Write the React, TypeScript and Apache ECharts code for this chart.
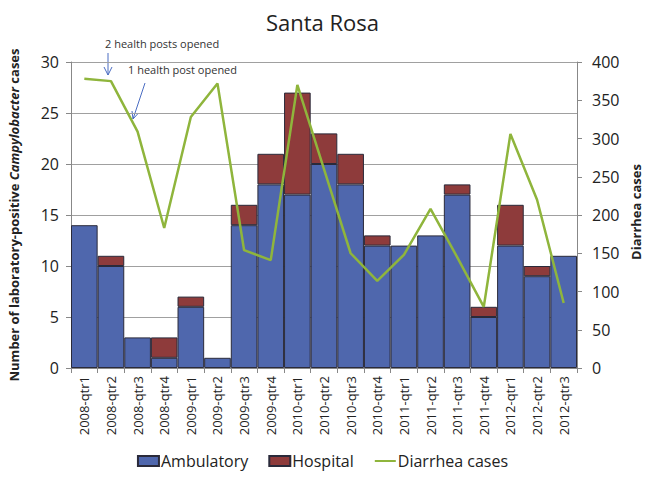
import React, { useEffect, useRef } from "react";
import * as echarts from "echarts";

const categories = [
  "2008-qtr1", "2008-qtr2", "2008-qtr3", "2008-qtr4",
  "2009-qtr1", "2009-qtr2", "2009-qtr3", "2009-qtr4",
  "2010-qtr1", "2010-qtr2", "2010-qtr3", "2010-qtr4",
  "2011-qtr1", "2011-qtr2", "2011-qtr3", "2011-qtr4",
  "2012-qtr1", "2012-qtr2", "2012-qtr3",
];
const ambulatory = [14, 10, 3, 1, 6, 1, 14, 18, 17, 20, 18, 12, 12, 13, 17, 5, 12, 9, 11];
const hospital = [0, 1, 0, 2, 1, 0, 2, 3, 10, 3, 3, 1, 0, 0, 1, 1, 4, 1, 0];
const diarrhea = [378, 375, 309, 183, 328, 372, 154, 141, 370, 260, 150, 114, 148, 208, 145, 80, 306, 220, 85];
const leftTicks = { min: 0, max: 30, interval: 5 };
const rightTicks = { min: 0, max: 400, interval: 50 };

const FONT = "'Open Sans', 'Noto Sans', sans-serif";

export default function App() {
  const ref = useRef<HTMLDivElement>(null);
  useEffect(() => {
    if (!ref.current) return;
    const chart = echarts.init(ref.current, null, { renderer: "svg" });
    const arrowColor = "#4a6cc2";
    chart.setOption({
      animation: false,
      textStyle: { fontFamily: FONT },
      title: {
        text: "Santa Rosa",
        left: "center",
        top: 6,
        textStyle: { fontSize: 22, fontWeight: "normal", color: "#222", fontFamily: FONT },
      },
      legend: {
        bottom: 3,
        left: "center",
        itemWidth: 21,
        itemHeight: 10,
        itemGap: 20,
        textStyle: { fontSize: 16, color: "#222", fontFamily: FONT, padding: [0, 0, 0, -3] },
        data: [
          { name: "Ambulatory", icon: "rect" },
          { name: "Hospital", icon: "rect" },
          { name: "Diarrhea cases", itemStyle: { opacity: 0 } },
        ],
      },
      grid: { left: 71, right: 68, top: 62, bottom: 109, containLabel: false, outerBoundsMode: "none" },
      xAxis: {
        type: "category",
        data: categories,
        axisLine: { lineStyle: { color: "#888" } },
        axisTick: { show: true, alignWithLabel: false, length: 5, lineStyle: { color: "#888" } },
        axisLabel: { rotate: 90, fontSize: 13, color: "#222", margin: 8, interval: 0 },
      },
      yAxis: [
        {
          type: "value",
          ...leftTicks,
          position: "left",
          axisLine: { show: true, lineStyle: { color: "#888" } },
          axisTick: { show: true, length: 5, lineStyle: { color: "#888" } },
          axisLabel: { fontSize: 16, color: "#222", margin: 12 },
          splitLine: { show: true, lineStyle: { color: "#a0a0a0", width: 1 } },
          name: "{b|Number of laboratory-positive }{bi|Campylobacter}{b| cases}",
          nameLocation: "middle",
          nameGap: 51,
          nameRotate: 90,
          nameTextStyle: {
            rich: {
              b: { fontSize: 13, fontWeight: "bold", color: "#222", fontFamily: FONT },
              bi: { fontSize: 13, fontWeight: "bold", fontStyle: "italic", color: "#222", fontFamily: FONT },
            },
          },
        },
        {
          type: "value",
          ...rightTicks,
          position: "right",
          axisLine: { show: true, lineStyle: { color: "#888" } },
          axisTick: { show: true, length: 5, lineStyle: { color: "#888" } },
          axisLabel: { fontSize: 16, color: "#222", margin: 15 },
          splitLine: { show: false },
        },
      ],
      series: [
        {
          name: "Ambulatory",
          type: "bar",
          stack: "cases",
          data: ambulatory,
          barCategoryGap: 0,
          itemStyle: { color: "#4f67ad", borderColor: "#2a2a3a", borderWidth: 1 },
        },
        {
          name: "Hospital",
          type: "bar",
          stack: "cases",
          data: hospital.map((v) => (v === 0 ? null : v)),
          barCategoryGap: 0,
          itemStyle: { color: "#8e3b3b", borderColor: "#2a2a3a", borderWidth: 1 },
        },
        {
          name: "Diarrhea cases",
          type: "line",
          yAxisIndex: 1,
          data: diarrhea,
          showSymbol: false,
          symbol: "none",
          lineStyle: { color: "#8fb53c", width: 2.5 },
          itemStyle: { color: "#8fb53c" },
        },
      ],
      graphic: [
        {
          type: "text",
          x: 636,
          y: 212,
          rotation: Math.PI / 2,
          style: {
            text: "Diarrhea cases",
            fontSize: 13,
            fontWeight: "bold",
            fill: "#222",
            fontFamily: FONT,
            align: "center",
            verticalAlign: "middle",
          },
        },
        {
          type: "text",
          left: 105,
          top: 38,
          style: { text: "2 health posts opened", fontSize: 11, fill: "#333", fontFamily: FONT },
        },
        {
          type: "text",
          left: 128,
          top: 64,
          style: { text: "1 health post opened", fontSize: 11, fill: "#333", fontFamily: FONT },
        },
        {
          type: "line",
          shape: { x1: 108, y1: 53, x2: 108, y2: 75 },
          style: { stroke: arrowColor, lineWidth: 1 },
        },
        {
          type: "polyline",
          shape: { points: [[104, 67], [108, 75], [112, 67]] },
          style: { stroke: arrowColor, lineWidth: 1, fill: null },
        },
        {
          type: "line",
          shape: { x1: 145, y1: 83, x2: 133, y2: 119 },
          style: { stroke: arrowColor, lineWidth: 1 },
        },
        {
          type: "polyline",
          shape: { points: [[132, 111], [133, 119], [138.5, 113]] },
          style: { stroke: arrowColor, lineWidth: 1, fill: null },
        },
      ],
    });
    return () => chart.dispose();
  }, []);
  return (
    <div
      ref={ref}
      style={{ position: "absolute", left: 0, top: 0, width: 645, height: 477 }}
    />
  );
}
